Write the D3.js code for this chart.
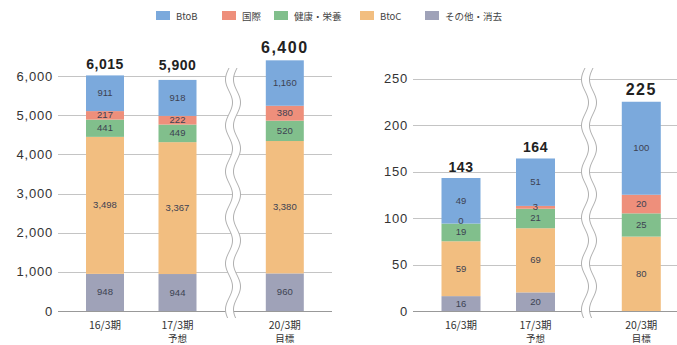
<!DOCTYPE html>
<html><head><meta charset="utf-8">
<script src="https://cdn.jsdelivr.net/npm/d3@7"></script>
<style>body{margin:0;background:#fff}svg{display:block}</style>
</head><body>
<svg id="c" width="677" height="345"></svg>
<script>
const categories = ["16/3期", "17/3期", "20/3期"];
const subLabels = ["", "予想", "目標"];
const seriesNames = ["BtoB", "国際", "健康・栄養", "BtoC", "その他・消去"];

const leftOther  = [948, 944, 960];
const leftBtoC   = [3498, 3367, 3380];
const leftHealth = [441, 449, 520];
const leftIntl   = [217, 222, 380];
const leftBtoB   = [911, 918, 1160];
const leftTotals = [6015, 5900, 6400];
const leftTicks  = [0, 1000, 2000, 3000, 4000, 5000, 6000];

const rightOther  = [16, 20, 0];
const rightBtoC   = [59, 69, 80];
const rightHealth = [19, 21, 25];
const rightIntl   = [0, 3, 20];
const rightBtoB   = [49, 51, 100];
const rightTotals = [143, 164, 225];
const rightTicks  = [0, 50, 100, 150, 200, 250];

const colors = {"BtoB":"#7ba9dc","国際":"#ee8f7b","健康・栄養":"#81bf8c","BtoC":"#f2be80","その他・消去":"#9fa2b8"};

const svg = d3.select("#c");
const FONT = "'Liberation Sans', Arial, 'Noto Sans CJK JP', sans-serif";
const JFONT = "'Noto Sans CJK JP', 'Liberation Sans', sans-serif";
const fmt = d3.format(",");

// legend
const legendX = [156, 222, 274, 360, 425];
const lg = svg.append("g");
seriesNames.forEach((n, i) => {
  lg.append("rect").attr("x", legendX[i]).attr("y", 11).attr("width", 14).attr("height", 9).attr("fill", colors[n]);
  lg.append("text").attr("x", legendX[i] + 20).attr("y", 19.5).attr("font-size", 9.5)
    .attr("font-family", JFONT).attr("fill", "#444").text(n);
});

function panel(cfg) {
  const rows = categories.map((c, i) => ({
    cat: c,
    "その他・消去": cfg.other[i], "BtoC": cfg.btoc[i], "健康・栄養": cfg.health[i],
    "国際": cfg.intl[i], "BtoB": cfg.btob[i]
  }));
  const order = ["その他・消去", "BtoC", "健康・栄養", "国際", "BtoB"];
  const stack = d3.stack().keys(order)(rows);
  const y = d3.scaleLinear().domain([0, cfg.ticks[cfg.ticks.length - 1]]).range([311, cfg.yTop]);
  const slot = d3.scaleLinear().domain([0, 1]).range([cfg.c0, cfg.c1]);
  const cx = i => slot(i + (i === 2 ? cfg.gap : 0));
  const g = svg.append("g");

  // gridlines
  g.selectAll("line.grid").data(cfg.ticks).join("line")
    .attr("x1", cfg.gx0).attr("x2", cfg.gx1)
    .attr("y1", d => Math.round(y(d)) + 0.5).attr("y2", d => Math.round(y(d)) + 0.5)
    .attr("stroke", d => d === 0 ? "#999" : "#c4c4c4").attr("stroke-width", 1);

  // tick labels
  g.selectAll("text.tick").data(cfg.ticks).join("text")
    .attr("x", cfg.labelX).attr("y", d => y(d) + 4.5)
    .attr("text-anchor", "end").attr("font-size", 13).attr("letter-spacing", 0.8)
    .attr("font-family", FONT).attr("fill", "#333").text(d => fmt(d));

  const gBars = g.append("g");
  const gLabels = g.append("g");
  // bars
  stack.forEach(layer => {
    const key = layer.key;
    gBars.selectAll(null).data(layer).join("rect")
      .attr("x", (d, i) => cx(i) - cfg.bw / 2).attr("width", cfg.bw)
      .attr("y", d => y(d[1])).attr("height", d => y(d[0]) - y(d[1]))
      .attr("fill", colors[key]);
    const lab = layer.map((d, i) => ({d, i})).filter(o => !(o.d[1] - o.d[0] === 0 && key === "その他・消去"));
    gLabels.selectAll(null).data(lab).join("text")
      .attr("x", o => cx(o.i)).attr("y", o => (y(o.d[0]) + y(o.d[1])) / 2 + 3 - (o.d[1] === o.d[0] ? 3 : 0))
      .attr("text-anchor", "middle").attr("font-size", 9.5)
      .attr("font-family", FONT).attr("fill", "#3d4252")
      .text(o => fmt(o.d[1] - o.d[0]));
  });

  // totals
  g.selectAll("text.total").data(cfg.totals).join("text")
    .attr("x", (d, i) => cx(i)).attr("y", (d, i) => y(d) - (i === 2 ? 7 : 6) - (cfg.extra[i] || 0))
    .attr("text-anchor", "middle").attr("font-weight", "bold")
    .attr("font-size", (d, i) => i === 2 ? 16 : 14).attr("letter-spacing", (d, i) => i === 2 ? 1.5 : 0.5)
    .attr("font-family", FONT).attr("fill", "#222").text(d => fmt(d));

  // category labels
  categories.forEach((c, i) => {
    g.append("text").attr("x", cx(i)).attr("y", 328.5).attr("text-anchor", "middle")
      .attr("font-size", 10.5).attr("font-family", JFONT).attr("fill", "#333").text(c);
    if (subLabels[i]) g.append("text").attr("x", cx(i)).attr("y", 342).attr("text-anchor", "middle")
      .attr("font-size", 9.5).attr("font-family", JFONT).attr("fill", "#333").text(subLabels[i]);
  });

  // wave break
  const top = cfg.waveTop, bot = 318, A = 3.5, P = 46;
  const pts = d3.range(top, bot + 0.5, 1);
  const xf = (yy, off) => cfg.waveX + off + A * Math.sin(2 * Math.PI * (yy - top) / P + Math.PI);
  const left = pts.map(yy => [xf(yy, -4), yy]);
  const right = pts.map(yy => [xf(yy, 4), yy]);
  g.append("path").attr("d", d3.line()(left.concat(right.slice().reverse())) + "Z")
    .attr("fill", "#fff").attr("stroke", "none");
  g.append("path").attr("d", d3.line()(left)).attr("fill", "none").attr("stroke", "#b0b0b0").attr("stroke-width", 1);
  g.append("path").attr("d", d3.line()(right)).attr("fill", "none").attr("stroke", "#b0b0b0").attr("stroke-width", 1);
}

panel({other:leftOther, btoc:leftBtoC, health:leftHealth, intl:leftIntl, btob:leftBtoB,
  totals:leftTotals, ticks:leftTicks, yTop:76, c0:105, c1:177.5, gap:0.48, bw:38,
  gx0:58, gx1:332, labelX:53, waveX:233, waveTop:68, extra:[0,4,0]});
panel({other:rightOther, btoc:rightBtoC, health:rightHealth, intl:rightIntl, btob:rightBtoB,
  totals:rightTotals, ticks:rightTicks, yTop:78.5, c0:461, c1:535.5, gap:0.42, bw:39,
  gx0:413, gx1:677, labelX:408, waveX:589, waveTop:68, extra:[0,0,0]});
</script>
</body></html>
